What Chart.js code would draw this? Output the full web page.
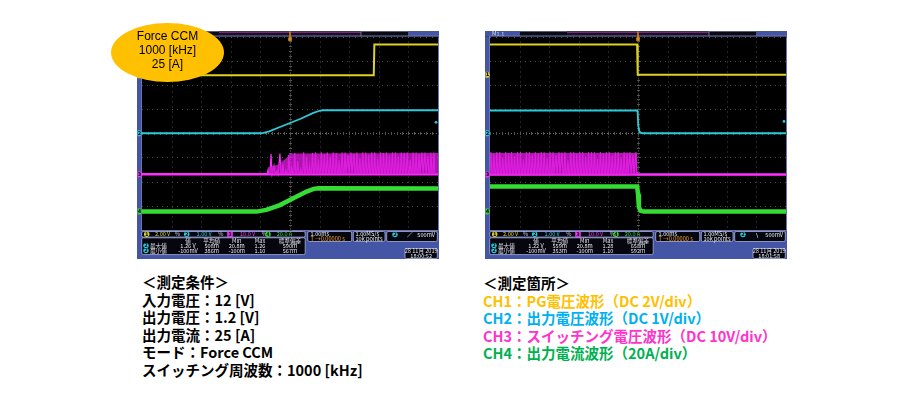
<!DOCTYPE html>
<html>
<head>
<meta charset="utf-8">
<script src="https://cdn.jsdelivr.net/npm/chart.js@4"></script>
<style>
body { margin: 0; width: 900px; height: 400px; background: #fff; position: relative; overflow: hidden; font-family: "Noto Sans CJK JP", sans-serif; }
canvas { position: absolute; }
#scopeL { left: 137px; top: 31px; }
#scopeR { left: 485px; top: 31px; }
.badge { position: absolute; left: 111px; top: 23px; width: 113px; height: 59px; border-radius: 50%; background: #FFC000;
  box-sizing: border-box; padding-top: 5.5px; text-align: center; font-family: "Liberation Sans", Arial, sans-serif; font-size: 12px; line-height: 14.3px; color: #000; }
.notes { position: absolute; font-weight: bold; font-size: 14.5px; line-height: 17.5px; white-space: nowrap; color: #000; }
</style>
</head>
<body>
<canvas id="scopeL" width="302" height="228"></canvas>
<canvas id="scopeR" width="302" height="228"></canvas>
<div class="badge">Force CCM<br>1000 [kHz]<br>25 [A]</div>
<div class="notes" style="left:142px; top:273px;">＜測定条件＞<br>入力電圧：12 [V]<br>出力電圧：1.2 [V]<br>出力電流：25 [A]<br>モード：Force CCM<br>スイッチング周波数：1000 [kHz]</div>
<div class="notes" style="left:483px; top:274px;">＜測定箇所＞<br><span style="color:#FFC000">CH1：PG電圧波形（DC 2V/div）</span><br><span style="color:#00B0F0">CH2：出力電圧波形（DC 1V/div）</span><br><span style="color:#FF33CC">CH3：スイッチング電圧波形（DC 10V/div）</span><br><span style="color:#00B050">CH4：出力電流波形（20A/div）</span></div>
<script>
'use strict';

// graticule units: x = 0..10 div, y = -4..4 div (0 = centre line)
const leftYellow = [[0, 2.40], [7.83, 2.40], [7.85, 3.67], [10, 3.67]];
const leftCyan = [[0, 0], [4.04, 0], [4.30, 0.08], [4.66, 0.26], [5.34, 0.59], [5.79, 0.84], [6.00, 0.93], [6.10, 0.95], [10, 0.95]];
const leftGreen = [[0, -3.24], [3.87, -3.24], [4.20, -3.17], [4.66, -2.97], [5.11, -2.69], [5.56, -2.41], [5.80, -2.30], [5.96, -2.27], [10, -2.28]];
const leftSwitchBase = -1.69;
const leftSwitchStart = 4.26;
const leftSwitchTops = [
    -1.50, -0.86, -1.35, -1.55, -0.84, -1.25, -1.52, -0.90, -1.40, -0.82,
    -1.15, -1.48, -0.80, -0.98, -1.30, -0.82, -0.80, -1.08, -0.80, -0.86,
    -0.80, -0.96, -0.80, -0.82, -1.12, -0.80, -0.80, -0.90, -0.80, -0.84,
    -0.80, -1.02, -0.80, -0.80, -0.88, -0.80, -0.80, -1.06, -0.80, -0.82,
    -0.80, -0.92, -0.80, -0.80, -0.97, -0.80, -0.81, -0.80, -1.10, -0.80,
    -0.80, -0.86, -0.80, -0.80, -0.93, -0.80, -0.80
];
const leftSwitchEnvelope = [[4.26, -1.69], [4.27, -1.40], [4.60, -1.30], [4.90, -1.00], [5.00, -0.84], [10, -0.82]];
const leftMarkers = [2.40, 0, -1.69, -3.24];
const leftTrigLevel = 0.45;
const leftMeasure = [['1.26 V', '508m', '20.8m', '1.26', '590m'], ['-100mV', '386m', '-100m', '1.10', '567m']];
const leftDate = ['28 11月 2019', '18:00:52'];

const rightYellow = [[0, 3.67], [4.97, 3.67], [4.99, 2.42], [10, 2.42]];
const rightCyan = [[0, 0.94], [4.97, 0.94], [4.99, 0.85], [5.01, 0.30], [5.05, 0.06], [5.15, 0], [10, 0]];
const rightGreen = [[0, -2.20], [4.97, -2.20], [5.00, -2.50], [5.03, -3.05], [5.08, -3.20], [5.20, -3.24], [10, -3.24]];
const rightSwitchBase = -1.71;
const rightSwitchStart = 0.03;
const rightSwitchTops = [
    -0.79, -0.86, -0.79, -0.79, -1.00, -0.79, -0.82, -0.79, -0.94, -0.79,
    -0.79, -1.08, -0.79, -0.79, -0.88, -0.79, -0.82, -0.79, -0.79, -1.02,
    -0.79, -0.79, -0.90, -0.79, -0.80, -0.79, -1.12, -0.79, -0.79, -0.85,
    -0.79, -0.79, -0.96, -0.79, -0.79, -0.79, -1.05, -0.79, -0.83, -0.79,
    -0.79, -0.92, -0.79, -0.79, -1.00, -0.79, -0.80, -0.79, -0.88, -0.79
];
const rightSwitchEnvelope = [[0, -0.82], [4.97, -0.82], [4.98, -1.71]];
const rightMarkers = [2.42, 0, -1.71, -3.24];
const rightTrigLevel = 0.49;
const rightMeasure = [['1.22 V', '559m', '20.8m', '1.28', '658m'], ['-100mV', '353m', '-100m', '1.10', '592m']];
const rightDate = ['28 11月 2019', '18:01:58'];

const switchPitch = 0.1;
const chanColors = ['#ddd222', '#2ccbdc', '#ff2eff', '#34dc34'];
const chanScale = ['2.00 V', '1.00 V', '10.0 V', '20.0 A'];
const measHeads = ['値', '平均値', 'Min', 'Max', '標準偏差'];
const frameBlue = '#4455a5';

function pts(pairs) {
    return pairs.map(p => ({x: p[0], y: p[1]}));
}

function spikeTrain(base, start, tops) {
    const out = [{x: 0, y: base}];
    tops.forEach((top, i) => {
        const x = start + i * switchPitch;
        out.push({x: x - 0.035, y: base}, {x: x, y: top}, {x: x + 0.035, y: base});
    });
    out.push({x: 10, y: base});
    return out;
}

function box(ctx, x, y, w, h) {
    ctx.beginPath();
    ctx.roundRect(x, y, w, h, 1.5);
    ctx.fillStyle = '#06060e';
    ctx.fill();
    ctx.strokeStyle = '#a8b0dc';
    ctx.lineWidth = 0.8;
    ctx.stroke();
}

function badge(ctx, x, y, color, n, square) {
    ctx.fillStyle = color;
    ctx.beginPath();
    if (square) ctx.rect(x - 2.8, y - 2.6, 5.6, 5.2);
    else ctx.arc(x, y, 2.7, 0, Math.PI * 2);
    ctx.fill();
    ctx.fillStyle = '#000';
    ctx.font = 'bold 5px "DejaVu Sans"';
    ctx.textAlign = 'center';
    ctx.textBaseline = 'middle';
    ctx.fillText(n, x, y + 0.3);
}

function txt(ctx, s, x, y, color, align) {
    ctx.fillStyle = color;
    ctx.font = '5.6px "Noto Sans CJK JP"';
    ctx.textAlign = align || 'left';
    ctx.textBaseline = 'middle';
    ctx.fillText(s, x, y);
}

const scopeDecor = {
    id: 'scopeDecor',
    beforeDraw(chart, args, opts) {
        const {ctx, chartArea: a, width} = chart;
        ctx.save();
        ctx.fillStyle = frameBlue;
        ctx.fillRect(0, 0.5, width, chart.height - 0.5);
        // top strip
        ctx.fillStyle = '#0b0b14';
        ctx.fillRect(0, 0.5, width, 5);
        ctx.fillStyle = frameBlue;
        ctx.fillRect(0, 0.5, 35, 5);
        ctx.fillRect(271, 0.5, width - 271, 5);
        ctx.fillStyle = '#1c1024';
        ctx.fillRect(82, 0.5, 142, 5);
        ctx.strokeStyle = '#a040a0';
        ctx.lineWidth = 0.8;
        ctx.beginPath();
        ctx.moveTo(82, 1.3); ctx.lineTo(224, 1.3);
        ctx.stroke();
        ctx.strokeStyle = '#9090a8';
        ctx.beginPath();
        ctx.moveTo(224, 0.5); ctx.lineTo(224, 5.5);
        ctx.stroke();
        txt(ctx, 'M1.1', 7, 3, '#d8dcf0');
        // graticule
        ctx.fillStyle = '#000';
        ctx.fillRect(a.left, a.top, a.right - a.left, a.bottom - a.top);
        ctx.strokeStyle = '#6a74b0';
        ctx.lineWidth = 1;
        ctx.strokeRect(a.left - 0.5, a.top - 0.5, a.right - a.left + 1, a.bottom - a.top + 1);
        ctx.restore();
    },
    beforeDatasetsDraw(chart) {
        const {ctx, chartArea: a, scales: {x, y}} = chart;
        ctx.save();
        ctx.lineWidth = 1;
        ctx.strokeStyle = '#4a4a4a';
        ctx.setLineDash([1, 4]);
        for (let i = 1; i < 10; i++) {
            const px = Math.round(x.getPixelForValue(i)) + 0.5;
            if (i === 5) continue;
            ctx.beginPath(); ctx.moveTo(px, a.top); ctx.lineTo(px, a.bottom); ctx.stroke();
        }
        for (let j = -3; j <= 3; j++) {
            if (j === 0) continue;
            const py = Math.round(y.getPixelForValue(j)) + 0.5;
            ctx.beginPath(); ctx.moveTo(a.left, py); ctx.lineTo(a.right, py); ctx.stroke();
        }
        ctx.strokeStyle = '#6c6c6c';
        ctx.setLineDash([1, 2]);
        const cx = Math.round(x.getPixelForValue(5)) + 0.5;
        const cy = Math.round(y.getPixelForValue(0)) + 0.5;
        ctx.beginPath(); ctx.moveTo(cx, a.top); ctx.lineTo(cx, a.bottom); ctx.stroke();
        ctx.beginPath(); ctx.moveTo(a.left, cy); ctx.lineTo(a.right, cy); ctx.stroke();
        ctx.setLineDash([]);
        ctx.strokeStyle = '#555';
        for (let i = 0; i <= 50; i++) {
            const px = Math.round(x.getPixelForValue(i / 5)) + 0.5;
            ctx.beginPath(); ctx.moveTo(px, cy - 1.5); ctx.lineTo(px, cy + 1.5); ctx.stroke();
            ctx.beginPath(); ctx.moveTo(px, a.top); ctx.lineTo(px, a.top + 1.5); ctx.stroke();
        }
        for (let j = 0; j <= 40; j++) {
            const py = Math.round(y.getPixelForValue(-4 + j / 5)) + 0.5;
            ctx.beginPath(); ctx.moveTo(cx - 1.5, py); ctx.lineTo(cx + 1.5, py); ctx.stroke();
        }
        ctx.restore();
    },
    afterDatasetsDraw(chart, args, opts) {
        const {ctx, chartArea: a, scales: {x, y}} = chart;
        ctx.save();
        // channel ground markers on the left edge
        opts.markers.forEach((v, i) => {
            const py = y.getPixelForValue(v);
            ctx.fillStyle = chanColors[i];
            ctx.beginPath();
            ctx.moveTo(0.5, py - 3); ctx.lineTo(3.5, py - 3); ctx.lineTo(5, py);
            ctx.lineTo(3.5, py + 3); ctx.lineTo(0.5, py + 3); ctx.closePath();
            ctx.fill();
            ctx.fillStyle = '#000';
            ctx.font = 'bold 5px "DejaVu Sans"';
            ctx.textAlign = 'center';
            ctx.textBaseline = 'middle';
            ctx.fillText(String(i + 1), 2.6, py + 0.3);
        });
        // trigger position and level
        const tx = x.getPixelForValue(5);
        ctx.strokeStyle = '#e08a10';
        ctx.lineWidth = 1.5;
        ctx.beginPath(); ctx.moveTo(tx, 0.5); ctx.lineTo(tx, a.top + 2); ctx.stroke();
        ctx.fillStyle = '#e08a10';
        ctx.fillRect(tx - 1.8, a.top + 1, 3.6, 3.4);
        const ty = y.getPixelForValue(opts.trigLevel);
        ctx.fillStyle = chanColors[1];
        ctx.beginPath(); ctx.arc(a.right - 2, ty, 1.4, 0, Math.PI * 2); ctx.fill();
        ctx.restore();
    },
    afterDraw(chart, args, opts) {
        const {ctx} = chart;
        const b = chart.chartArea.bottom;
        ctx.save();
        // channel settings strip
        box(ctx, 4.7, b + 1.5, 163.5, 5.6);
        const cy = b + 4.3;
        [[9.7, 18, 38], [49.7, 59.5, 81.3], [93, 103, 124.7], [131, 139.7, 0]].forEach((c, i) => {
            badge(ctx, c[0], cy, chanColors[i], String(i + 1), i === 2);
            txt(ctx, chanScale[i], c[1], cy, chanColors[i]);
            if (c[2]) txt(ctx, '%', c[2], cy, '#c8c8d8');
        });
        // measurement table
        box(ctx, 4.7, b + 7.8, 163.5, 16.8);
        const cols = [51, 74.7, 99.7, 123, 153];
        measHeads.forEach((h, k) => txt(ctx, h, cols[k], b + 10.8, '#e0e0e8', 'center'));
        ['最大値', '最小値'].forEach((lab, r) => {
            const ry = b + 15.6 + r * 5;
            badge(ctx, 9, ry, chanColors[1], '2');
            txt(ctx, lab, 13, ry, '#e0e0e8');
            opts.measure[r].forEach((v, k) => txt(ctx, v, cols[k], ry, '#e8e8f0', 'center'));
        });
        // timebase, sampling, trigger
        box(ctx, 170.7, b + 1.5, 44, 10);
        txt(ctx, '1.00ms', 173.5, b + 4.3, '#e8e8f0');
        txt(ctx, 'T →0.00000 s', 173.5, b + 9, '#f0a020');
        box(ctx, 216.3, b + 1.5, 31.7, 10);
        txt(ctx, '1.00MS/s', 218.5, b + 4.3, '#e8e8f0');
        txt(ctx, '10k points', 218.5, b + 9, '#e8e8f0');
        box(ctx, 249.7, b + 1.5, 50.6, 10);
        badge(ctx, 258, b + 4.6, chanColors[1], '2');
        txt(ctx, opts.slope, 270, b + 4.6, '#e8e8f0');
        txt(ctx, '500mV', 298, b + 4.6, '#e8e8f0', 'right');
        // date
        box(ctx, 268, b + 18.5, 32.3, 10);
        txt(ctx, opts.date[0], 284.2, b + 21.2, '#e8e8f0', 'center');
        txt(ctx, opts.date[1], 284.2, b + 25.9, '#e8e8f0', 'center');
        ctx.restore();
    }
};

function makeScope(id, yellow, cyan, green, swBase, swStart, swTops, swEnvelope, deco) {
    const traces = [
        {data: pts(green), borderColor: chanColors[3], borderWidth: 4.5},
        {data: pts(swEnvelope), borderWidth: 0, borderColor: 'transparent',
            backgroundColor: 'rgba(215, 25, 215, 0.8)', fill: {value: swBase}},
        {data: [{x: 0, y: swBase}, {x: 10, y: swBase}], borderColor: chanColors[2], borderWidth: 2.5},
        {data: spikeTrain(swBase, swStart, swTops), borderColor: chanColors[2], borderWidth: 1.2},
        {data: pts(cyan), borderColor: chanColors[1], borderWidth: 1.8},
        {data: pts(yellow), borderColor: chanColors[0], borderWidth: 2}
    ];
    return new Chart(document.getElementById(id), {
        type: 'line',
        data: {datasets: traces},
        options: {
            responsive: false,
            animation: false,
            events: [],
            layout: {padding: {left: 5, top: 5.5, right: 1, bottom: 29}},
            scales: {
                x: {type: 'linear', min: 0, max: 10, display: false},
                y: {type: 'linear', min: -4, max: 4, display: false}
            },
            elements: {point: {radius: 0}, line: {tension: 0, borderJoinStyle: 'miter'}},
            plugins: {legend: {display: false}, tooltip: {enabled: false}, scopeDecor: deco}
        },
        plugins: [scopeDecor]
    });
}

window.addEventListener('load', () => {
    makeScope('scopeL', leftYellow, leftCyan, leftGreen, leftSwitchBase, leftSwitchStart, leftSwitchTops, leftSwitchEnvelope,
        {markers: leftMarkers, trigLevel: leftTrigLevel, measure: leftMeasure, date: leftDate, slope: '∕'});
    makeScope('scopeR', rightYellow, rightCyan, rightGreen, rightSwitchBase, rightSwitchStart, rightSwitchTops, rightSwitchEnvelope,
        {markers: rightMarkers, trigLevel: rightTrigLevel, measure: rightMeasure, date: rightDate, slope: '∖'});
});
</script>
</body>
</html>
